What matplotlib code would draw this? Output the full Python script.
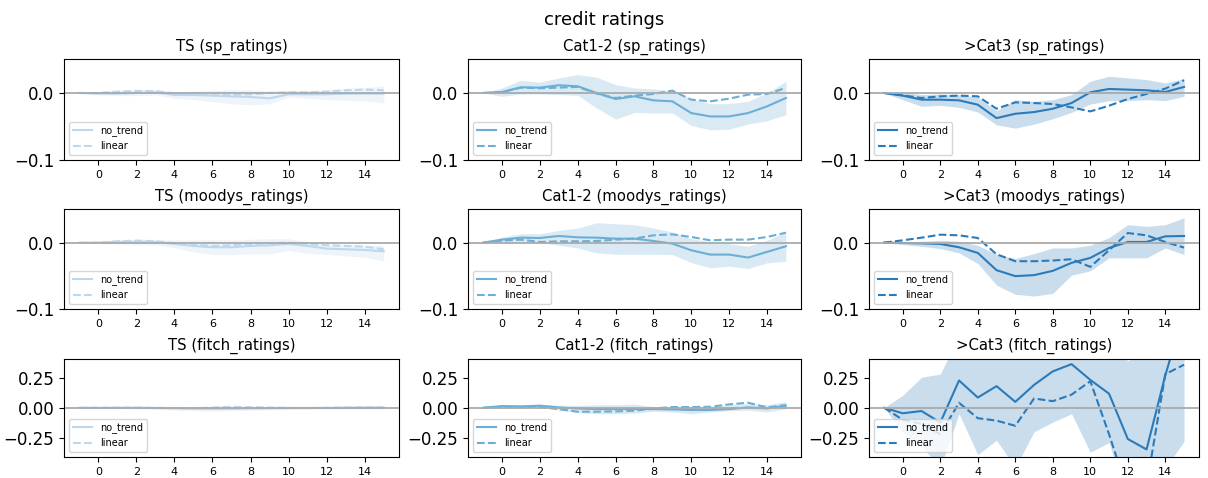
import numpy as np
import matplotlib
matplotlib.use("Agg")
import matplotlib.pyplot as plt

# horizon (-1 .. 15)
horizon = list(range(-1, 16))

groups = ["TS", "Cat1-2", ">Cat3"]
agencies = ["sp_ratings", "moodys_ratings", "fitch_ratings"]
colors = ["#bdd7ee", "#6baed6", "#2b7bba"]

# ---- sp_ratings ----
sp_ts_nt = [0, -0.001, -0.001, 0.0, 0.001, -0.003, -0.003, -0.004, -0.005, -0.006, -0.008, -0.002, -0.002, -0.002, -0.001, -0.001, -0.001]
sp_ts_lin = [0, 0.0, 0.002, 0.003, 0.003, -0.001, -0.002, -0.003, -0.003, -0.002, 0.0, 0.001, 0.001, 0.002, 0.004, 0.005, 0.004]
sp_ts_lo = [0, -0.003, -0.004, -0.004, -0.003, -0.008, -0.010, -0.013, -0.016, -0.018, -0.016, -0.006, -0.008, -0.010, -0.011, -0.012, -0.015]
sp_ts_hi = [0, 0.002, 0.004, 0.005, 0.005, 0.002, 0.003, 0.004, 0.005, 0.005, 0.003, 0.004, 0.004, 0.005, 0.007, 0.008, 0.011]

sp_c12_nt = [0, 0.0015, 0.0085, 0.008, 0.0115, 0.010, 0.0, -0.009, -0.005, -0.011, -0.0125, -0.030, -0.035, -0.035, -0.030, -0.020, -0.0075]
sp_c12_lin = [0, 0.001, 0.008, 0.007, 0.008, 0.009, -0.001, -0.0075, -0.004, -0.0015, 0.0035, -0.010, -0.0125, -0.0085, -0.0025, -0.0015, 0.0075]
sp_c12_lo = [0, -0.005, -0.0015, -0.0015, -0.0025, -0.0035, -0.0225, -0.039, -0.029, -0.030, -0.030, -0.0485, -0.055, -0.054, -0.0465, -0.0415, -0.0325]
sp_c12_hi = [0, 0.0075, 0.019, 0.016, 0.0225, 0.0275, 0.0235, 0.0125, 0.0075, 0.006, 0.0035, -0.0085, -0.016, -0.016, -0.0125, 0.0, 0.0175]

sp_c3_nt = [0, -0.004, -0.010, -0.010, -0.011, -0.0175, -0.0375, -0.031, -0.0285, -0.0235, -0.015, 0.001, 0.006, 0.005, 0.004, 0.0015, 0.009]
sp_c3_lin = [0, -0.0035, -0.0075, -0.005, -0.004, -0.005, -0.0235, -0.014, -0.015, -0.0165, -0.0215, -0.0275, -0.019, -0.009, -0.0015, 0.0065, 0.019]
sp_c3_lo = [0, -0.010, -0.020, -0.0185, -0.0215, -0.0285, -0.0475, -0.0525, -0.0465, -0.0385, -0.029, -0.0165, -0.0115, -0.0115, -0.010, -0.0115, -0.005]
sp_c3_hi = [0, 0.0015, -0.0025, -0.0015, -0.0025, -0.0065, -0.0265, -0.010, -0.0125, -0.010, -0.0025, 0.0175, 0.025, 0.0225, 0.020, 0.015, 0.0215]

# ---- moodys_ratings ----
mo_ts_nt = [0, 0, 0.001, 0.001, 0.001, -0.002, -0.005, -0.007, -0.007, -0.005, -0.004, -0.002, -0.005, -0.009, -0.010, -0.011, -0.013]
mo_ts_lin = [0, 0, 0.002, 0.003, 0.002, -0.001, -0.003, -0.005, -0.004, -0.002, -0.001, 0.0, -0.002, -0.004, -0.005, -0.006, -0.010]
mo_ts_lo = [0, -0.002, -0.002, -0.003, -0.003, -0.008, -0.014, -0.018, -0.018, -0.017, -0.017, -0.012, -0.016, -0.018, -0.020, -0.022, -0.028]
mo_ts_hi = [0, 0.002, 0.004, 0.005, 0.005, 0.004, 0.004, 0.004, 0.004, 0.005, 0.006, 0.006, 0.002, -0.002, -0.003, -0.004, -0.004]

mo_c12_nt = [0, 0.0045, 0.0075, 0.007, 0.010, 0.008, 0.0075, 0.006, 0.006, 0.0025, -0.0015, -0.0115, -0.018, -0.018, -0.0225, -0.014, -0.0055]
mo_c12_lin = [0, 0.003, 0.0045, 0.001, 0.002, 0.002, 0.0025, 0.0045, 0.006, 0.011, 0.0125, 0.0085, 0.0035, 0.0045, 0.0045, 0.0085, 0.015]
mo_c12_lo = [0, 0.001, 0.001, 0.0, -0.004, -0.008, -0.0155, -0.0175, -0.0175, -0.0175, -0.018, -0.030, -0.038, -0.0355, -0.039, -0.0305, -0.028]
mo_c12_hi = [0, 0.0085, 0.0135, 0.0135, 0.0185, 0.022, 0.030, 0.0285, 0.027, 0.022, 0.016, 0.006, 0.001, -0.0015, -0.0055, 0.0035, 0.016]

mo_c3_nt = [0, -0.0005, -0.001, -0.002, -0.007, -0.0155, -0.0415, -0.0505, -0.049, -0.0425, -0.0305, -0.023, -0.008, 0.001, 0.001, 0.0095, 0.010]
mo_c3_lin = [0, 0.0035, 0.0075, 0.012, 0.011, 0.007, -0.0175, -0.028, -0.028, -0.027, -0.025, -0.0365, -0.0115, 0.0145, 0.011, 0.001, -0.0075]
mo_c3_lo = [0, -0.003, -0.0055, -0.009, -0.0155, -0.0315, -0.064, -0.078, -0.0805, -0.0765, -0.049, -0.0425, -0.023, -0.023, -0.023, -0.008, -0.018]
mo_c3_hi = [0, 0.001, 0.002, 0.0035, 0.002, -0.004, -0.0175, -0.024, -0.0165, -0.008, -0.008, -0.004, 0.0075, 0.027, 0.0245, 0.027, 0.0375]

# ---- fitch_ratings ----
fi_ts_nt = [0, 0, 0, 0, -0.002, -0.005, -0.008, -0.010, -0.008, -0.006, -0.004, -0.003, -0.002, -0.001, 0, 0.002, 0.003]
fi_ts_lin = [0, 0, 0.001, 0.002, 0, -0.003, -0.004, 0.002, 0.008, 0.005, 0.002, 0, -0.002, 0, 0.003, 0.004, 0.005]
fi_ts_lo = [0, -0.004, -0.006, -0.008, -0.012, -0.020, -0.025, -0.028, -0.025, -0.022, -0.018, -0.014, -0.012, -0.012, -0.012, -0.010, -0.010]
fi_ts_hi = [0, 0.004, 0.006, 0.008, 0.008, 0.008, 0.008, 0.010, 0.015, 0.014, 0.010, 0.008, 0.008, 0.010, 0.012, 0.014, 0.016]

fi_c12_nt = [0, 0.014, 0.011, 0.017, 0.003, -0.006, -0.011, -0.011, -0.011, -0.011, -0.014, -0.019, -0.019, -0.011, 0.003, -0.006, 0.017]
fi_c12_lin = [0, 0.006, 0.006, 0.006, -0.011, -0.033, -0.033, -0.030, -0.025, -0.006, 0.006, 0.006, 0.008, 0.028, 0.042, 0.003, 0.022]
fi_c12_lo = [0, 0.0, -0.005, 0.005, -0.020, -0.040, -0.050, -0.050, -0.045, -0.030, -0.035, -0.050, -0.035, -0.025, -0.020, -0.035, -0.010]
fi_c12_hi = [0, 0.025, 0.025, 0.030, 0.020, 0.020, 0.025, 0.025, 0.030, 0.010, 0.008, 0.005, 0.010, 0.025, 0.035, 0.025, 0.050]

fi_c3_nt = [0, -0.046, -0.027, -0.123, 0.227, 0.085, 0.180, 0.049, 0.190, 0.303, 0.363, 0.232, 0.117, -0.260, -0.347, 0.270, 0.800]
fi_c3_lin = [0, -0.100, -0.134, -0.220, 0.041, -0.087, -0.107, -0.150, 0.077, 0.055, 0.109, 0.221, -0.220, -0.700, -0.650, 0.280, 0.358]
fi_c3_lo = [0, -0.200, -0.320, -0.500, -0.050, -0.390, -0.270, -0.500, -0.200, -0.120, -0.050, -0.370, -0.290, -0.800, -0.900, -0.500, -0.280]
fi_c3_hi = [0, 0.104, 0.254, 0.281, 0.600, 0.550, 0.600, 0.550, 0.650, 0.750, 0.800, 0.700, 0.550, 0.390, 0.500, 0.900, 1.100]

panels = [
    [(sp_ts_nt, sp_ts_lin, sp_ts_lo, sp_ts_hi), (sp_c12_nt, sp_c12_lin, sp_c12_lo, sp_c12_hi), (sp_c3_nt, sp_c3_lin, sp_c3_lo, sp_c3_hi)],
    [(mo_ts_nt, mo_ts_lin, mo_ts_lo, mo_ts_hi), (mo_c12_nt, mo_c12_lin, mo_c12_lo, mo_c12_hi), (mo_c3_nt, mo_c3_lin, mo_c3_lo, mo_c3_hi)],
    [(fi_ts_nt, fi_ts_lin, fi_ts_lo, fi_ts_hi), (fi_c12_nt, fi_c12_lin, fi_c12_lo, fi_c12_hi), (fi_c3_nt, fi_c3_lin, fi_c3_lo, fi_c3_hi)],
]

# axes placement (figure fractions)
col_left = [0.0530, 0.3874, 0.7194]
col_width = [0.2773, 0.2757, 0.2732]
row_bottom = [0.6653, 0.3536, 0.0439]
row_height = [0.2103, 0.2082, 0.2061]

fig = plt.figure(figsize=(12.08, 4.78), dpi=100)
fig.suptitle("credit ratings", fontsize=13, y=0.978, va="top")

for r in range(3):
    for c in range(3):
        ax = fig.add_axes([col_left[c], row_bottom[r], col_width[c], row_height[r]])
        nt, lin, lo, hi = panels[r][c]
        col = colors[c]
        ax.fill_between(horizon, lo, hi, color=col, alpha=0.25, linewidth=0)
        ax.plot(horizon, nt, color=col, lw=1.5, label="no_trend")
        ax.plot(horizon, lin, color=col, lw=1.5, ls="--", label="linear")
        ax.axhline(0, color="#aaaaaa", lw=1.3)
        ax.set_title(f"{groups[c]} ({agencies[r]})", fontsize=10.7)
        ax.set_xticks(range(0, 15, 2))
        ax.tick_params(axis="x", labelsize=8)
        ax.tick_params(axis="y", labelsize=12)
        if r < 2:
            ax.set_ylim(-0.1, 0.05)
            ax.set_yticks([-0.1, 0.0])
        else:
            ax.set_ylim(-0.41, 0.41)
            ax.set_yticks([-0.25, 0.0, 0.25])
        ax.legend(loc="lower left", fontsize=7)

fig.savefig("out.png", dpi=100)
